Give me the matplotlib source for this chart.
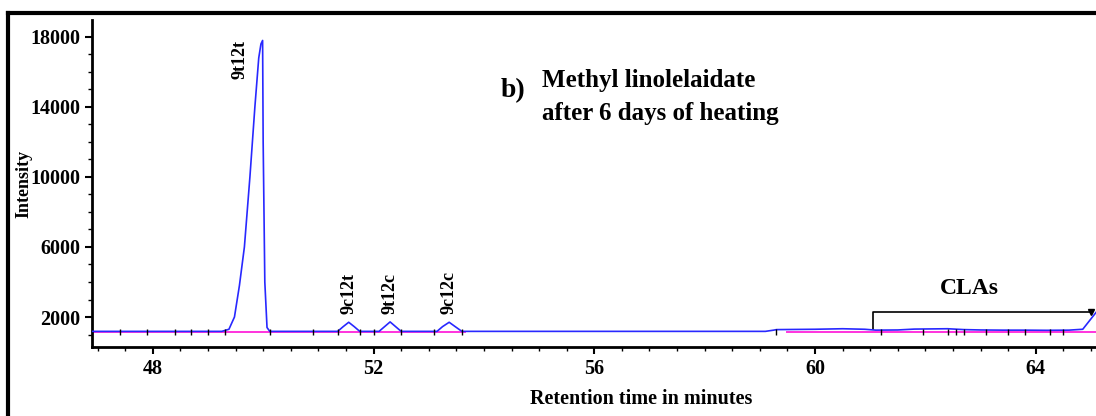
import matplotlib
matplotlib.use("Agg")
import matplotlib.pyplot as plt
from matplotlib.lines import Line2D
from matplotlib.ticker import MultipleLocator

# chromatogram trace (retention time, intensity)
rt = [46.9, 49.25, 49.38, 49.48, 49.57, 49.66, 49.76, 49.85, 49.92, 49.96, 49.99, 50.0, 50.03, 50.07, 50.12,
      51.35, 51.45, 51.55, 51.65, 51.75,
      52.1, 52.2, 52.3, 52.4, 52.5,
      53.15, 53.25, 53.37, 53.48, 53.6,
      59.1, 59.25, 59.3, 60.0, 60.5, 60.9, 61.1, 61.5, 61.8, 62.1, 62.4, 62.7, 63.0, 63.4,
      63.8, 64.2, 64.6, 64.85, 64.95, 65.1]
intensity = [1180, 1180, 1300, 2000, 3800, 6000, 10000, 14000, 16800, 17600, 17800, 12000, 4000, 1400, 1180,
             1180, 1450, 1700, 1450, 1180,
             1180, 1450, 1720, 1450, 1180,
             1180, 1450, 1700, 1450, 1180,
             1180, 1250, 1280, 1300, 1330, 1300, 1250, 1260, 1310, 1320, 1330, 1280, 1260, 1250,
             1250, 1240, 1250, 1300, 1700, 2300]

# integration baseline segments (magenta)
base_segments = [(46.9, 53.65), (59.5, 65.1)]
base_level = 1170

# integration marks on the baseline
marks = [47.4, 47.9, 48.4, 48.7, 49.0, 49.3, 50.12, 50.9, 51.35, 51.75, 52.0, 52.5, 53.1, 53.6,
         59.3, 61.2, 61.95, 62.4, 62.55, 62.7, 63.1, 63.5, 63.8, 64.25, 64.5]

peak_names = ["9t12t", "9c12t", "9t12c", "9c12c"]
peak_pos = [49.58, 51.55, 52.3, 53.37]
label_y = [16700, 2150, 2150, 2150]

cla_range = (61.05, 65.0)

serif = ["Liberation Serif", "DejaVu Serif"]
plt.rcParams["font.family"] = serif
plt.rcParams["font.weight"] = "bold"

fig = plt.figure(figsize=(10.96, 4.16), dpi=100)
ax = fig.add_axes([0.084, 0.166, 0.916, 0.786])

ax.plot(rt, intensity, color="#2828ff", lw=1.2, zorder=3)
for a, b in base_segments:
    ax.plot([a, b], [base_level, base_level], color="#ff33dd", lw=1.4, zorder=2)
ax.plot(marks, [base_level] * len(marks), ls="none", marker="|", ms=5, mew=1.0, color="black", zorder=4)

for name, x, y in zip(peak_names, peak_pos, label_y):
    ax.text(x, y, name, rotation=90, ha="center", va="bottom" if y < 5000 else "center",
            fontsize=13, fontweight="bold")

# CLA bracket
ax.plot([cla_range[0], cla_range[0], cla_range[1]], [1300, 2300, 2300], color="black", lw=1.2)
ax.plot([cla_range[1]], [2300], marker="v", ms=4, color="black")
ax.text(62.8, 3650, "CLAs", ha="center", va="center", fontsize=17, fontweight="bold")

ax.text(54.3, 14950, "b)", fontsize=20, fontweight="bold", va="center")
ax.text(55.06, 15500, "Methyl linolelaidate", fontsize=18, fontweight="bold", va="center")
ax.text(55.06, 13600, "after 6 days of heating", fontsize=18, fontweight="bold", va="center")

ax.set_xlim(46.9, 65.09)
ax.set_ylim(290, 18970)
ax.xaxis.set_major_locator(MultipleLocator(4))
ax.xaxis.set_minor_locator(MultipleLocator(0.5))
ax.yaxis.set_minor_locator(MultipleLocator(1000))
ax.set_yticks([2000, 6000, 10000, 14000, 18000])
ax.tick_params(which="major", length=5, width=1.5, labelsize=14.5, direction="out")
ax.tick_params(which="minor", length=3, width=1.0, direction="out")
for lab in ax.get_xticklabels() + ax.get_yticklabels():
    lab.set_fontweight("bold")

for s in ["top", "right"]:
    ax.spines[s].set_visible(False)
for s in ["left", "bottom"]:
    ax.spines[s].set_linewidth(2)

ax.set_xlabel("Retention time in minutes", fontsize=14.5, fontweight="bold")
ax.xaxis.set_label_coords((641 - 92) / 1004, -42 / 327)
ax.set_ylabel("Intensity", fontsize=13, fontweight="bold")
ax.yaxis.set_label_coords(-60 / 1004, 0.5)

# outer frame of the panel
fig.add_artist(Line2D([0.0075, 0.0075], [-0.1, 0.969], color="black", lw=3, transform=fig.transFigure))
fig.add_artist(Line2D([0.0075, 1.1], [0.969, 0.969], color="black", lw=3, transform=fig.transFigure))

fig.savefig("out.png", dpi=100)
